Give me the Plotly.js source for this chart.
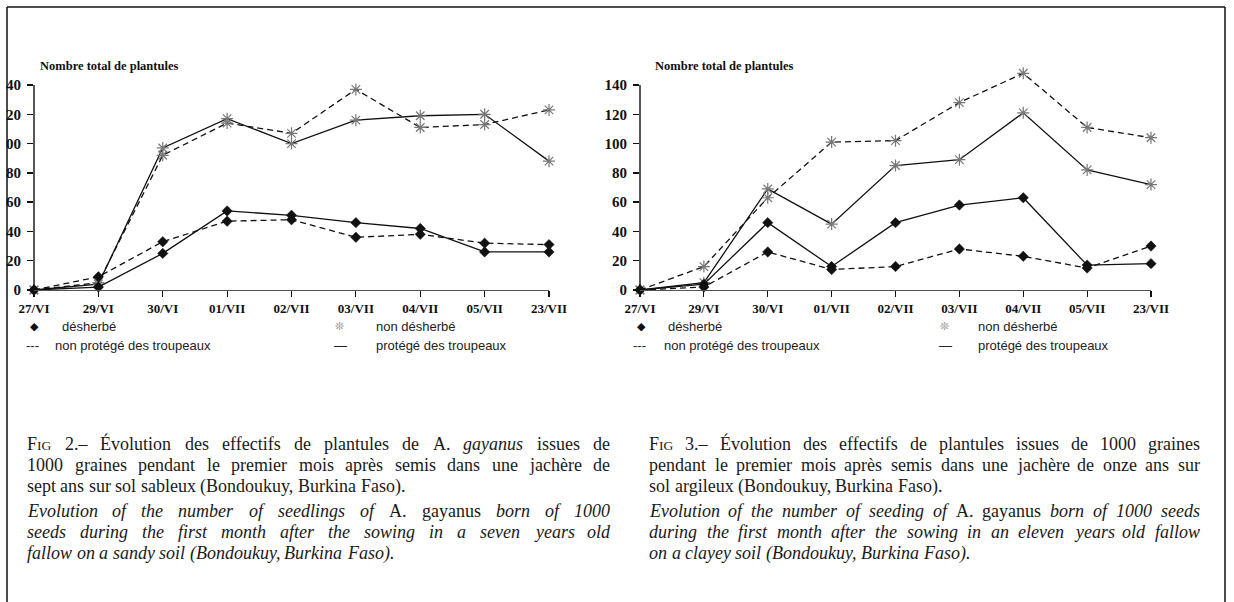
<!DOCTYPE html>
<html>
<head>
<meta charset="utf-8">
<script src="https://cdn.plot.ly/plotly-3.0.1.min.js"></script>
<style>html,body{margin:0;padding:0;background:#fff;}#chart{width:1234px;height:602px;}</style>
</head>
<body>
<div id="chart"></div>
<script>
// ---- data ----
const categories = ['27/VI','29/VI','30/VI','01/VII','02/VII','03/VII','04/VII','05/VII','23/VII'];
const yTicks = [0, 20, 40, 60, 80, 100, 120, 140];

// Fig 2 (sol sableux)
const fig2_nonDesherbe_protege    = [0, 4, 97, 117, 100, 116, 119, 120, 88];
const fig2_nonDesherbe_nonProtege = [0, 5, 92, 114, 107, 137, 111, 113, 123];
const fig2_desherbe_protege       = [0, 2, 25, 54, 51, 46, 42, 26, 26];
const fig2_desherbe_nonProtege    = [0, 9, 33, 47, 48, 36, 38, 32, 31];

// Fig 3 (sol argileux)
const fig3_nonDesherbe_protege    = [0, 5, 69, 45, 85, 89, 121, 82, 72];
const fig3_nonDesherbe_nonProtege = [0, 16, 63, 101, 102, 128, 148, 111, 104];
const fig3_desherbe_protege       = [0, 4, 46, 16, 46, 58, 63, 17, 18];
const fig3_desherbe_nonProtege    = [0, 2, 26, 14, 16, 28, 23, 15, 30];

const yTitle = 'Nombre total de plantules';
const legendLabels = ['désherbé', 'non désherbé', 'non protégé des troupeaux', 'protégé des troupeaux'];

// caption lines: segments [text, style] with style 'n' upright, 'i' italic; last = paragraph end
const caption2 = [
  {seg: [['FIG 2.– Évolution des effectifs de plantules de A.', 'n'], ['gayanus', 'i'], ['issues de', 'n']], last: false},
  {seg: [['1000 graines pendant le premier mois après semis dans une jachère de', 'n']], last: false},
  {seg: [['sept ans sur sol sableux (Bondoukuy, Burkina Faso).', 'n']], last: true},
  {seg: [['Evolution of the number of seedlings of', 'i'], ['A. gayanus', 'n'], ['born of 1000', 'i']], last: false},
  {seg: [['seeds during the first month after the sowing in a seven years old', 'i']], last: false},
  {seg: [['fallow on a sandy soil (Bondoukuy, Burkina Faso).', 'i']], last: true}
];
const caption3 = [
  {seg: [['FIG 3.– Évolution des effectifs de plantules issues de 1000 graines', 'n']], last: false},
  {seg: [['pendant le premier mois après semis dans une jachère de onze ans sur', 'n']], last: false},
  {seg: [['sol argileux (Bondoukuy, Burkina Faso).', 'n']], last: true},
  {seg: [['Evolution of the number of seeding of', 'i'], ['A. gayanus', 'n'], ['born of 1000 seeds', 'i']], last: false},
  {seg: [['during the first month after the sowing in an eleven years old fallow', 'i']], last: false},
  {seg: [['on a clayey soil (Bondoukuy, Burkina Faso).', 'i']], last: true}
];

// ---- helpers ----
const W = 1234, H = 602;
const px = x => x / W;
const py = y => 1 - y / H;
const SERIF = '"Liberation Serif", "Times New Roman", serif';
const SANS = '"Liberation Sans", Arial, sans-serif';

function series(y, xa, ya, dashed, star) {
  return {
    x: categories, y: y, xaxis: xa, yaxis: ya, type: 'scatter', mode: 'lines+markers',
    cliponaxis: false, showlegend: false, hoverinfo: 'skip',
    line: {color: '#111', width: 1.3, dash: dashed ? '6px,4px' : 'solid'},
    marker: star
      ? {symbol: 'asterisk-open', size: 10, color: '#777', line: {color: '#666', width: 1.2}}
      : {symbol: 'diamond', size: 8, color: '#111', line: {color: '#111', width: 0.5}}
  };
}

const traces = [
  series(fig2_nonDesherbe_protege, 'x', 'y', false, true),
  series(fig2_nonDesherbe_nonProtege, 'x', 'y', true, true),
  series(fig2_desherbe_protege, 'x', 'y', false, false),
  series(fig2_desherbe_nonProtege, 'x', 'y', true, false),
  series(fig3_nonDesherbe_protege, 'x2', 'y2', false, true),
  series(fig3_nonDesherbe_nonProtege, 'x2', 'y2', true, true),
  series(fig3_desherbe_protege, 'x2', 'y2', false, false),
  series(fig3_desherbe_nonProtege, 'x2', 'y2', true, false)
];

function xAxis(domain, anchor) {
  return {
    domain: domain, anchor: anchor, type: 'category', range: [0, categories.length - 1],
    showgrid: false, zeroline: false, showline: true, linecolor: '#555', linewidth: 1.2,
    ticks: 'outside', ticklen: 6, tickcolor: '#111', tickwidth: 1.2,
    tickfont: {family: SERIF, size: 13, color: '#111', weight: 'bold'},
    ticklabelstandoff: 0, fixedrange: true
  };
}
const Y_TOP = 152;
function yAxis(domain, anchor) {
  return {
    domain: domain, anchor: anchor, range: [0, Y_TOP], tickvals: yTicks,
    showgrid: false, zeroline: false, showline: false,
    ticks: 'outside', ticklen: 6, tickcolor: '#111', tickwidth: 1.3,
    tickfont: {family: SERIF, size: 15, color: '#111', weight: 'bold'},
    ticklabelstandoff: 3, fixedrange: true
  };
}

// y=0 at 290px, y=140 at 85px
const pxPerUnit = (290 - 85) / 140;
const yDom = [py(290), py(290 - pxPerUnit * Y_TOP)];

const annotations = [];
function addText(text, x, y, opts) {
  annotations.push(Object.assign({
    text: text, xref: 'paper', yref: 'paper', x: px(x), y: py(y),
    xanchor: 'left', yanchor: 'middle', showarrow: false, borderpad: 0, borderwidth: 0,
    font: {family: SANS, size: 13, color: '#222'}
  }, opts || {}));
}

// axis titles
addText(yTitle, 40, 66, {font: {family: SERIF, size: 12.5, color: '#111', weight: 'bold'}});
addText(yTitle, 655, 66, {font: {family: SERIF, size: 12.5, color: '#111', weight: 'bold'}});

// legends
function legend(x0, xText1, xStar, xText2, xDash, xDashText, xSolid, xSolidText) {
  addText('◆', x0, 327, {xanchor: 'center', font: {family: '"DejaVu Sans", sans-serif', size: 11, color: '#111'}});
  addText(legendLabels[0], xText1, 327);
  addText('❊', xStar, 327, {xanchor: 'center', font: {family: '"DejaVu Sans", sans-serif', size: 11, color: '#888'}});
  addText(legendLabels[1], xText2, 327);
  addText('---', xDash, 345);
  addText(legendLabels[2], xDashText, 345);
  addText('—', xSolid, 345);
  addText(legendLabels[3], xSolidText, 345);
}
legend(34, 62, 339, 376, 26, 55, 334, 376);
legend(641, 668, 944, 978, 633, 664, 939, 978);

// captions, justified word by word
const CAP = 18, CAP_SMALL = 13.5;
const ctx = document.createElement('canvas').getContext('2d');
function wWidth(t, italic, size) {
  ctx.font = (italic ? 'italic ' : '') + size + 'px "Liberation Serif"';
  return ctx.measureText(t).width;
}
function wordInfo(word, style) {
  const it = style === 'i';
  if (word === 'FIG') {
    return {html: 'F<span style="font-size:' + CAP_SMALL + 'px">IG</span>',
            w: wWidth('F', false, CAP) + wWidth('IG', false, CAP_SMALL)};
  }
  return {html: it ? '<i>' + word + '</i>' : word, w: wWidth(word, it, CAP)};
}
const capY = [444, 465, 486, 511, 532, 553];
function caption(lines, xLeft, xRight) {
  lines.forEach((ln, i) => {
    const words = [];
    ln.seg.forEach(s => s[0].split(' ').forEach(w => { if (w) words.push(wordInfo(w, s[1])); }));
    const total = words.reduce((a, b) => a + b.w, 0);
    const space = wWidth(' ', false, CAP);
    const gap = ln.last ? space : (xRight - xLeft - total) / (words.length - 1);
    let x = xLeft;
    words.forEach(wd => {
      addText(wd.html, x, capY[i], {font: {family: SERIF, size: CAP, color: '#1a1a1a'}});
      x += wd.w + gap;
    });
  });
}
caption(caption2, 27, 610);
caption(caption3, 649, 1200);

const shapes = [
  // y axis lines from 0 to 140
  {type: 'line', xref: 'x domain', yref: 'y', x0: 0, x1: 0, y0: 0, y1: 140, line: {color: '#111', width: 1.4}},
  {type: 'line', xref: 'x2 domain', yref: 'y2', x0: 0, x1: 0, y0: 0, y1: 140, line: {color: '#111', width: 1.4}},
  // white page margin cutting the left tick labels (scan crop)
  {type: 'rect', xref: 'paper', yref: 'paper', x0: 0, x1: px(6), y0: 0, y1: 1,
   fillcolor: '#fff', line: {width: 0}, layer: 'above'},
  // frame
  {type: 'line', xref: 'paper', yref: 'paper', x0: px(7), x1: px(1225), y0: py(7), y1: py(7), line: {color: '#111', width: 1.5}},
  {type: 'line', xref: 'paper', yref: 'paper', x0: px(7), x1: px(7), y0: py(7), y1: 0, line: {color: '#111', width: 1.5}},
  {type: 'line', xref: 'paper', yref: 'paper', x0: px(1225), x1: px(1225), y0: py(7), y1: 0, line: {color: '#111', width: 1.5}}
];

const layout = {
  width: W, height: H, margin: {l: 0, r: 0, t: 0, b: 0},
  paper_bgcolor: '#fff', plot_bgcolor: 'rgba(0,0,0,0)', showlegend: false,
  xaxis: xAxis([px(34), px(549)], 'y'),
  yaxis: yAxis(yDom, 'x'),
  xaxis2: xAxis([px(640), px(1151)], 'y2'),
  yaxis2: yAxis(yDom, 'x2'),
  annotations: annotations, shapes: shapes
};

Plotly.newPlot('chart', traces, layout, {staticPlot: true, displayModeBar: false});
</script>
</body>
</html>
